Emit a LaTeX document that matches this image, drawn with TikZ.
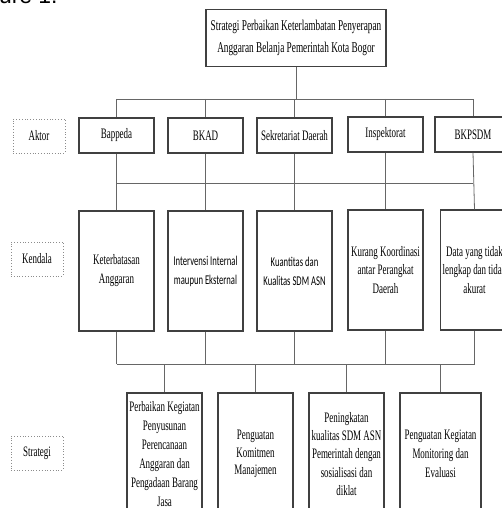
\documentclass[tikz,border=0pt]{standalone}
\usepackage{fontspec}
\setmainfont[FakeStretch=0.62]{Liberation Serif}
\newfontfamily\calib[FakeStretch=0.64]{Carlito}
\newfontfamily\arialf{Liberation Sans}
\usetikzlibrary{shadows}
\begin{document}
\begin{tikzpicture}[x=1bp,y=-1bp,
  box/.style={draw=black!75, line width=1.1bp, fill=white, inner sep=0pt, align=center,
    drop shadow={shadow xshift=0.9bp, shadow yshift=-0.9bp, fill=black!75, opacity=1},
    font=\fontsize{14.5}{19}\selectfont},
  sbox/.style={box, font=\calib\fontsize{13.5}{19}\selectfont},
  lab/.style={draw=black!45, dotted, line width=0.8bp, inner sep=0pt, align=center,
    minimum width=52bp, minimum height=34bp, font=\fontsize{14.5}{19}\selectfont},
  conn/.style={draw=black!60, line width=0.8bp}]
\useasboundingbox (0,0) rectangle (502,508);
\clip (0,0) rectangle (502,508);
\node[anchor=base west, font=\arialf\fontsize{23}{23}\selectfont, inner sep=0pt] (fig) at (-33,3.5) {Figure 1.};
% title
\node[box, line width=1.3bp, minimum width=180bp, minimum height=57bp, font=\fontsize{15}{21.5}\selectfont] (title) at (296,38)
  {Strategi Perbaikan Keterlambatan Penyerapan\\Anggaran Belanja Pemerintah Kota Bogor};
% row labels
\node[lab] (laktor) at (39,136) {Aktor};
\node[lab] (lkendala) at (37,259) {Kendala};
\node[lab] (lstrategi) at (37,453) {Strategi};
% actors
\node[box, minimum width=75bp, minimum height=35bp] (a1) at (116.5,135.5) {Bappeda};
\node[box, minimum width=75bp, minimum height=35bp] (a2) at (205.5,135.5) {BKAD};
\node[box, minimum width=75bp, minimum height=35bp] (a3) at (294.5,135.5) {Sekretariat Daerah};
\node[box, minimum width=75bp, minimum height=35bp] (a4) at (385.5,134.5) {Inspektorat};
\node[box, minimum width=76bp, minimum height=35bp] (a5) at (473,134.5) {BKPSDM};
% constraints
\node[box, minimum width=75bp, minimum height=120bp] (k1) at (116.5,271) {Keterbatasan\\Anggaran};
\node[sbox, minimum width=75bp, minimum height=120bp] (k2) at (205.5,271) {Intervensi Internal\\maupun Eksternal};
\node[sbox, minimum width=75bp, minimum height=120bp] (k3) at (294.5,271) {Kuantitas dan\\Kualitas SDM ASN};
\node[box, minimum width=75bp, minimum height=120bp] (k4) at (385.5,270) {Kurang Koordinasi\\antar Perangkat\\Daerah};
\node[box, minimum width=68bp, minimum height=120bp] (k5) at (474.5,270) {Data yang tidak\\lengkap dan tidak\\akurat};
% strategies
\node[box, minimum width=75bp, minimum height=122bp] (s1) at (164.5,454)
  {Perbaikan Kegiatan\\Penyusunan\\Perencanaan\\Anggaran dan\\Pengadaan Barang\\Jasa};
\node[box, minimum width=75bp, minimum height=122bp, font=\fontsize{14.5}{17.5}\selectfont] (s2) at (255.5,454) {Penguatan\\Komitmen\\Manajemen};
\node[box, minimum width=75bp, minimum height=122bp, font=\fontsize{14.5}{18.3}\selectfont] (s3) at (346.5,454)
  {Peningkatan\\kualitas SDM ASN\\Pemerintah dengan\\sosialisasi dan\\diklat};
\node[box, minimum width=81bp, minimum height=122bp] (s4) at (440.5,454) {Penguatan Kegiatan\\Monitoring dan\\Evaluasi};
% bars
\coordinate (b1) at (0,99);
\coordinate (b2) at (0,183);
\coordinate (b3) at (0,364);
\draw[conn] (title.south) -- (title.south |- b1);
\draw[conn] (a1 |- b1) -- (a5 |- b1);
\foreach \i in {1,...,5} {
  \draw[conn] (a\i |- b1) -- (a\i.north);
  \draw[conn] (a\i.south) -- (k\i.north);
  \draw[conn] (k\i.south) -- (k\i |- b3);
}
\draw[conn] (a1 |- b2) -- (a5 |- b2);
\draw[conn] (k1 |- b3) -- (k5 |- b3);
\foreach \j in {1,...,4} {
  \draw[conn] (s\j |- b3) -- (s\j.north);
}
\end{tikzpicture}
\end{document}
